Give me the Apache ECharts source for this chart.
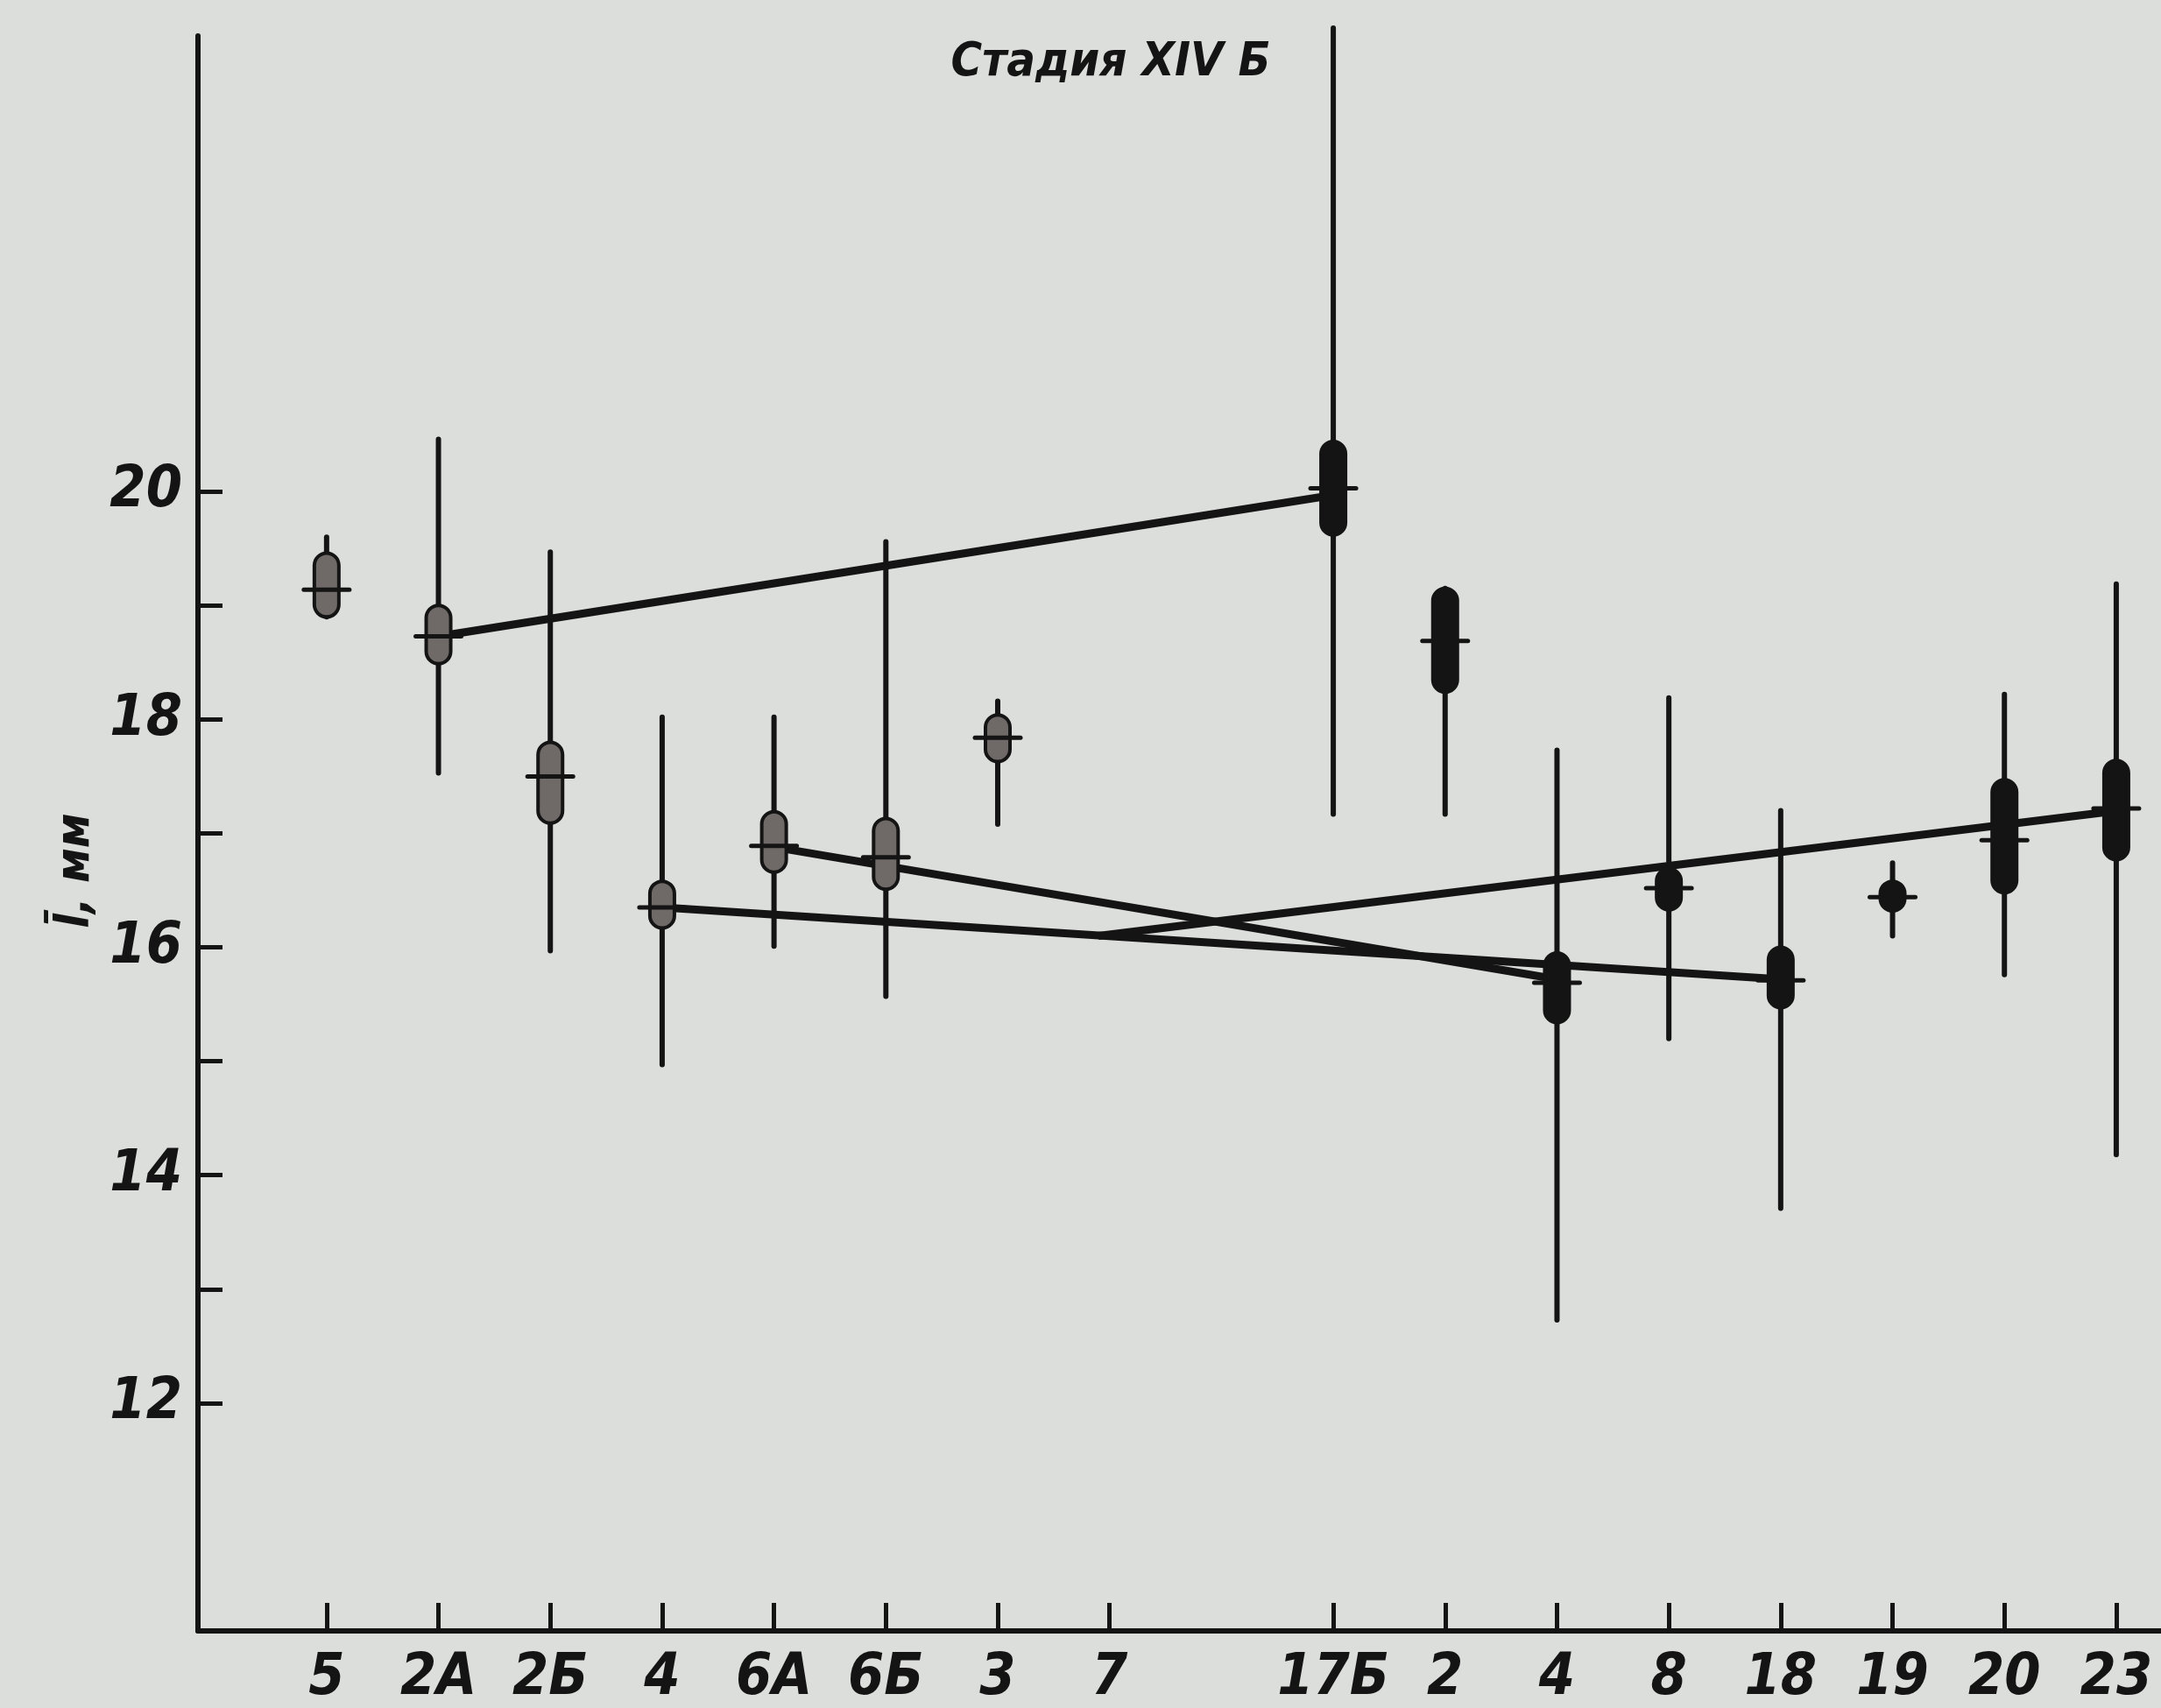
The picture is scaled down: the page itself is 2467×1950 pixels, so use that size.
<!DOCTYPE html>
<html>
<head>
<meta charset="utf-8">
<script src="https://cdn.jsdelivr.net/npm/echarts@6/dist/echarts.min.js"></script>
<style>
  html, body { margin: 0; padding: 0; background: #dcdedb; }
  #chart { width: 2467px; height: 1950px; }
</style>
</head>
<body>
<div id="chart"></div>
<script>
// ---- data ----
// category slots along the x axis (slot 8 is an empty gap)
const categories = ['5', '2А', '2Б', '4', '6А', '6Б', '3', '7', '', '17Б', '2', '4', '8', '18', '19', '20', '23'];
const tickSlots  = [0, 1, 2, 3, 4, 5, 6, 7, 9, 10, 11, 12, 13, 14, 15, 16];

const rangeLow    = [18.90, 17.53, 15.97, 14.97, 16.01, 15.57, 17.08, null, null, 17.17, 17.17, 12.73, 15.20, 13.71, 16.10, 15.76, 14.18];
const rangeHigh   = [19.60, 20.46, 19.47, 18.02, 18.02, 19.56, 18.16, null, null, 24.07, 19.15, 17.73, 18.19, 17.20, 16.74, 18.22, 19.19];
const ellipseLow  = [18.90, 18.49, 17.09, 16.17, 16.66, 16.51, 17.63, null, null, 19.62, 18.24, 15.34, 16.33, 15.47, 16.32, 16.48, 16.77];
const ellipseHigh = [19.46, 19.00, 17.80, 16.58, 17.19, 17.13, 18.04, null, null, 20.44, 19.15, 15.95, 16.69, 16.00, 16.58, 17.47, 17.64];
const means       = [19.14, 18.73, 17.50, 16.35, 16.89, 16.79, 17.84, null, null, 20.03, 18.69, 15.69, 16.52, 15.71, 16.44, 16.94, 17.22];

// trend lines: [slot, value] end points
const trend1 = [[1, 18.73], [9, 19.97]];
const trend2 = [[3, 16.35], [13, 15.72]];
const trend3 = [[4, 16.88], [11, 15.72]];
const trend4 = [[6.9, 16.10], [16.1, 17.21]];

const yTicks  = [12, 13, 14, 15, 16, 17, 18, 19, 20];
const yLabels = [12, 14, 16, 18, 20];

const titleText = 'Стадия XIV Б';
const yName = 'l\u0304, мм';

// ---- chart ----
const FONT = "'Liberation Sans Narrow', 'DejaVu Sans Condensed', 'Liberation Sans', sans-serif";
const INK = '#141414';

const points = [];
categories.forEach((c, i) => {
  if (means[i] == null) return;
  points.push([i, rangeLow[i], rangeHigh[i], ellipseLow[i], ellipseHigh[i], means[i], i < 7 ? 1 : 0]);
});

function renderItem(params, api) {
  const x = api.value(0);
  const p = v => api.coord([x, v]);
  const top = p(api.value(2)), bot = p(api.value(1));
  const eTop = p(api.value(4)), eBot = p(api.value(3));
  const m = p(api.value(5));
  const shaded = api.value(6) === 1;
  const w = 28;
  return {
    type: 'group',
    children: [
      { type: 'line', shape: { x1: top[0], y1: top[1], x2: bot[0], y2: bot[1] },
        style: { stroke: INK, lineWidth: 6, lineCap: 'round' } },
      { type: 'rect', shape: { x: eTop[0] - w / 2, y: eTop[1], width: w, height: eBot[1] - eTop[1], r: w / 2 },
        style: { fill: shaded ? '#6f6a67' : INK, stroke: INK, lineWidth: 4 } },
      { type: 'line', shape: { x1: m[0] - 26, y1: m[1], x2: m[0] + 26, y2: m[1] },
        style: { stroke: INK, lineWidth: 5, lineCap: 'round' } }
    ]
  };
}

function trend(data) {
  return {
    type: 'line', data: data, symbol: 'none', z: 1, silent: true,
    lineStyle: { color: INK, width: 9 }, animation: false
  };
}

const chart = echarts.init(document.getElementById('chart'), null, { renderer: 'canvas' });
chart.setOption({
  backgroundColor: '#dcdedb',
  animation: false,
  title: {
    text: titleText,
    left: 1263, top: 40, textAlign: 'center',
    textStyle: { fontFamily: FONT, fontSize: 54, fontStyle: 'italic', fontWeight: 'bold', color: INK }
  },
  grid: { left: 226, right: 0, top: 41, bottom: 86, containLabel: false },
  xAxis: {
    type: 'value', min: -1.15, max: 16.4,
    axisLine: { show: true, onZero: false, lineStyle: { color: INK, width: 6 } },
    axisTick: { show: true, inside: true, length: 32, customValues: tickSlots, lineStyle: { color: INK, width: 5 } },
    axisLabel: {
      customValues: tickSlots,
      formatter: v => categories[Math.round(v)],
      fontFamily: FONT, fontSize: 66, fontStyle: 'italic', fontWeight: 'bold', color: INK, margin: 22
    },
    splitLine: { show: false }
  },
  yAxis: {
    type: 'value', min: 10, max: 24,
    axisLine: { show: true, onZero: false, lineStyle: { color: INK, width: 6 } },
    axisTick: { show: true, inside: true, length: 28, customValues: yTicks, lineStyle: { color: INK, width: 5 } },
    axisLabel: {
      customValues: yLabels,
      fontFamily: FONT, fontSize: 66, fontStyle: 'italic', fontWeight: 'bold', color: INK, margin: 18
    },
    splitLine: { show: false }
  },
  graphic: [{
    type: 'text', x: 87, y: 994, rotation: Math.PI / 2,
    style: {
      text: yName, fill: INK, textAlign: 'center', textVerticalAlign: 'middle',
      font: "italic bold 54px " + FONT
    }
  }],
  series: [
    trend(trend1), trend(trend2), trend(trend3), trend(trend4),
    {
      type: 'custom', renderItem: renderItem, data: points, z: 3, clip: false,
      encode: { x: 0, y: [1, 2] }, animation: false
    }
  ]
});
</script>
</body>
</html>
